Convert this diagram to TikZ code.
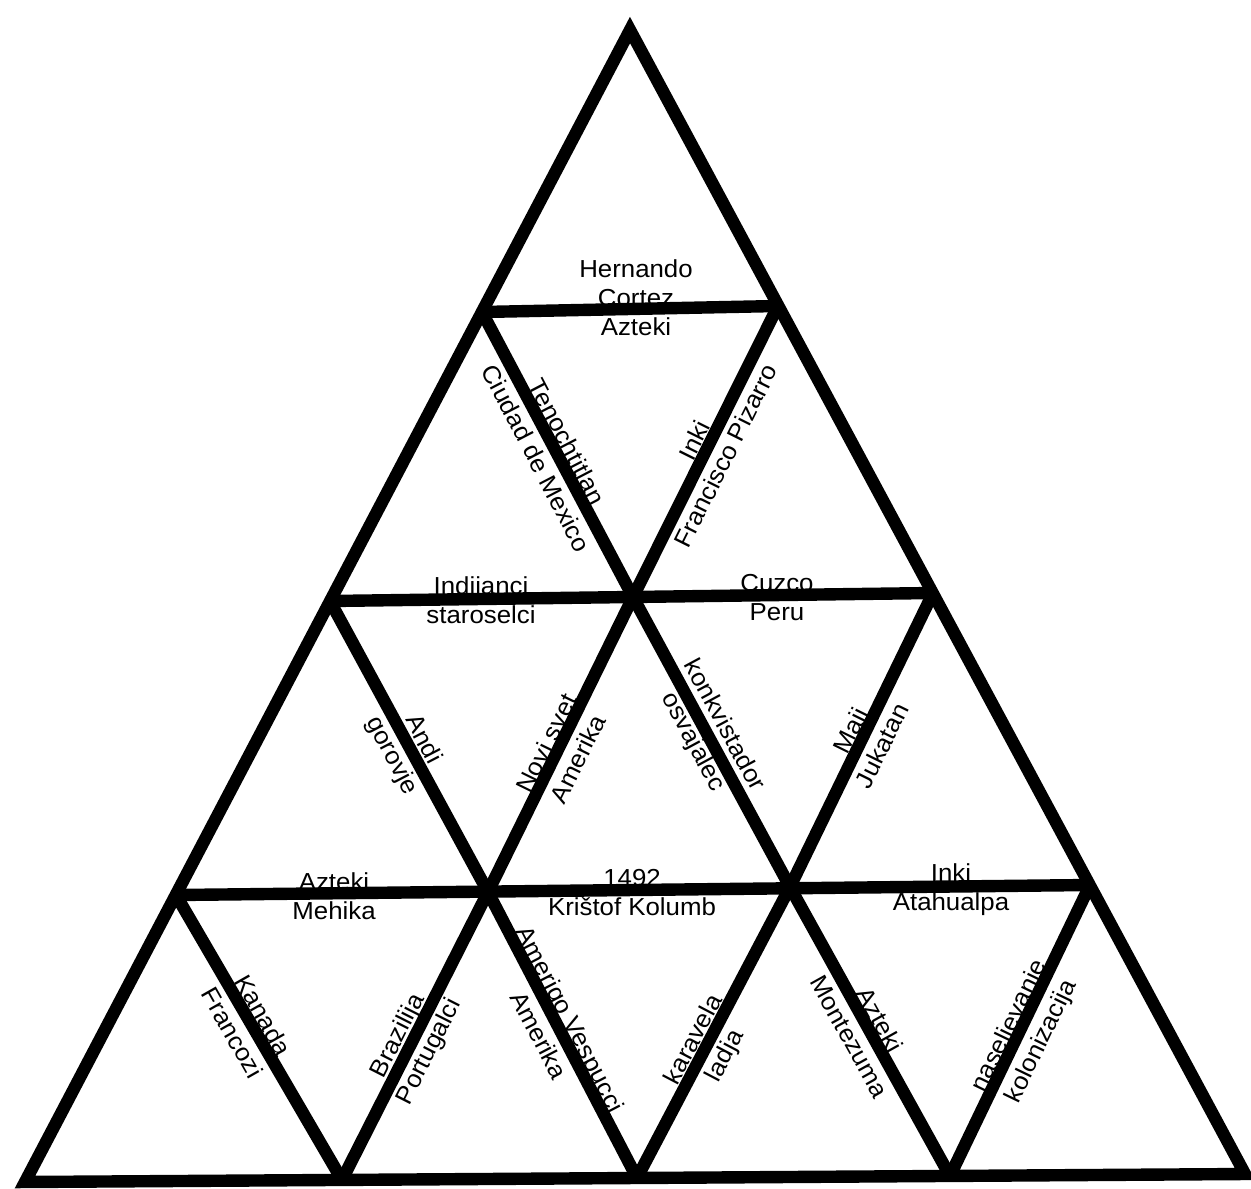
\documentclass[tikz,border=0pt]{standalone}
\usepackage{fontspec}
\setmainfont{Liberation Sans}[FakeStretch=1.05]
\usetikzlibrary{calc}
\begin{document}
\begin{tikzpicture}[x=0.5pt,y=-0.5pt,
  edge/.style={line width=6.2pt,black,line cap=butt},
  outer/.style={line width=6.2pt,black,line join=miter},
  hlab/.style={align=center,inner sep=0pt,font=\fontsize{12.3}{14.5}\selectfont},
  dlab/.style={align=center,inner sep=0pt,font=\fontsize{12.3}{17.5}\selectfont}]
\useasboundingbox (0,0) rectangle (1251,1188);
% vertices
\coordinate (A)  at (630,30);
\coordinate (B1) at (482,312);
\coordinate (B2) at (778,306);
\coordinate (C1) at (330,601);
\coordinate (C2) at (633,597);
\coordinate (C3) at (933,593);
\coordinate (D1) at (176,895);
\coordinate (D2) at (488,892);
\coordinate (D3) at (790,887);
\coordinate (D4) at (1090,885);
\coordinate (E1) at (25,1182);
\coordinate (E2) at (342,1180);
\coordinate (E3) at (637,1178);
\coordinate (E4) at (950,1176);
\coordinate (E5) at (1245,1174);
% outer triangle
\draw[outer] (A) -- (E1) -- (E5) -- cycle;
% horizontals
\draw[edge] (B1) -- (B2);
\draw[edge] (C1) -- (C3);
\draw[edge] (D1) -- (D4);
% down-right diagonals
\draw[edge] (B1) -- (C2) -- (D3) -- (E4);
\draw[edge] (C1) -- (D2) -- (E3);
\draw[edge] (D1) -- (E2);
% down-left diagonals
\draw[edge] (B2) -- (C2) -- (D2) -- (E2);
\draw[edge] (C3) -- (D3) -- (E3);
\draw[edge] (D4) -- (E4);
% horizontal labels
\node[hlab] (l1) at (636,298) {Hernando\\Cortez\\Azteki};
\node[hlab] (l2) at (481,600) {Indijanci\\staroselci};
\node[hlab] (l3) at (777,598) {Cuzco\\Peru};
\node[hlab] (l4) at (334,896) {Azteki\\Mehika};
\node[hlab] (l5) at (632,893) {1492\\Krištof Kolumb};
\node[hlab] (l6) at (951,890) {Inki\\Atahualpa};
% diagonal labels
\node[dlab,rotate=-62.5] (d1) at (552,450) {Tenochtitlan\\Ciudad de Mexico};
\node[dlab,rotate=63.5]  (d2) at (710,448) {Inki\\Francisco Pizarro};
\node[dlab,rotate=-62.6] (d3) at (407,748) {Andi\\gorovje};
\node[dlab,rotate=63.8]  (d4) at (562,751) {Novi svet\\Amerika};
\node[dlab,rotate=-61.6] (d5) at (708,734) {konkvistador\\osvajalec};
\node[dlab,rotate=63.7]  (d6) at (866,738) {Maji\\Jukatan};
\node[dlab,rotate=-60.4] (d7) at (248,1024) {Kanada\\Francozi};
\node[dlab,rotate=63.1]  (d8) at (414,1044) {Brazilija\\Portugalci};
\node[dlab,rotate=-62.5] (d9) at (555,1027) {Amerigo Vespucci\\Amerika};
\node[dlab,rotate=62.3]  (d10) at (710,1048) {karavela\\ladja};
\node[dlab,rotate=-60.9] (d11) at (865,1028) {Azteki\\Montezuma};
\node[dlab,rotate=64.2]  (d12) at (1026,1034) {naseljevanje\\kolonizacija};
\end{tikzpicture}
\end{document}
